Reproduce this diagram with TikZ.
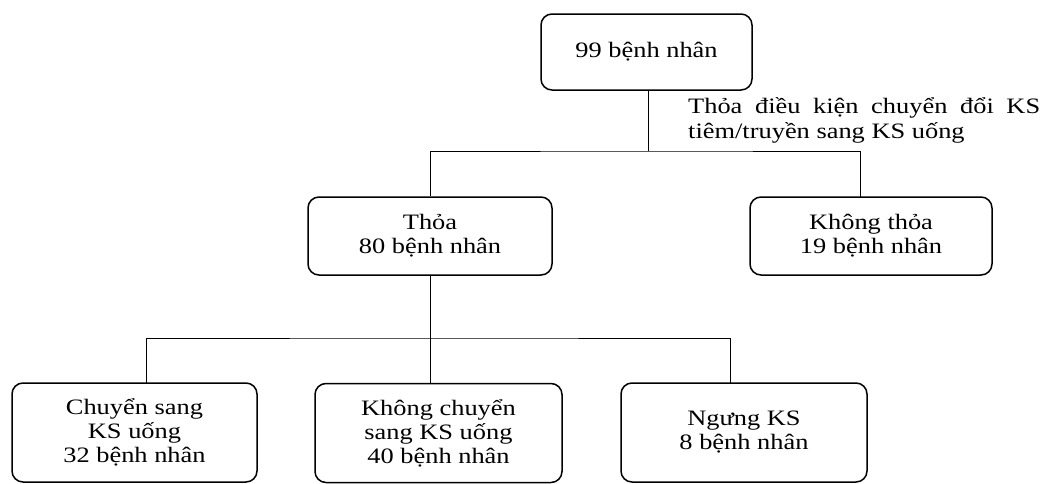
\documentclass[tikz,border=0pt]{standalone}
\usepackage{fontspec}
\setmainfont{Liberation Serif}[FakeStretch=1.2]
\tikzset{box/.style={draw, line width=1.5pt, rounded corners=11pt, align=center,
    inner sep=0pt, font=\fontsize{22}{24}\selectfont}}
\tikzset{link/.style={line width=.8pt}}

\begin{document}
\begin{tikzpicture}[x=1pt, y=-1pt]
    \useasboundingbox(0, 0)rectangle(1045, 483);
    \node[box, minimum width=211pt, minimum height=76pt](tong)at(646.5, 52){99 bệnh nhân};
    \node[box, minimum width=244pt, minimum height=78pt](thoa)at(430, 236){Thỏa\\80 bệnh nhân};
    \node[box, minimum width=242pt, minimum height=78pt](khong)at(871, 236){Không thỏa\\19 bệnh nhân};
    \node[box, minimum width=245pt, minimum height=99pt](chuyen)at(134.5, 432.5){Chuyển sang\\KS uống\\32 bệnh nhân};
    \node[box, minimum width=247pt, minimum height=99pt](khongchuyen)at(438.5, 433){Không chuyển\\sang KS uống\\40 bệnh nhân};
    \node[box, minimum width=246pt, minimum height=99pt](ngung)at(744, 432.5){Ngưng KS\\8 bệnh nhân};
    \node[anchor=north west, inner sep=0pt, align=left, font=\fontsize{22}{25}\selectfont](dieukien)at(688, 97)
        {\makebox[352pt][s]{Thỏa điều kiện chuyển đổi KS}\\tiêm/truyền sang KS uống};
    % nhanh 1
    \coordinate(r1)at(648, 151);
    \coordinate(khongtop)at(860, 197);
    \draw[link](tong.south -| r1)--(r1);
    \draw[link](thoa.north)|-(r1)-|(khongtop);
    % nhanh 2
    \coordinate(r2)at(430, 338);
    \coordinate(chuyentop)at(146, 383);
    \coordinate(ngungtop)at(730, 383);
    \draw[link](thoa.south)--(khongchuyen.north -| r2);
    \draw[link](chuyentop)|-(r2)-|(ngungtop);
\end{tikzpicture}
\end{document}
